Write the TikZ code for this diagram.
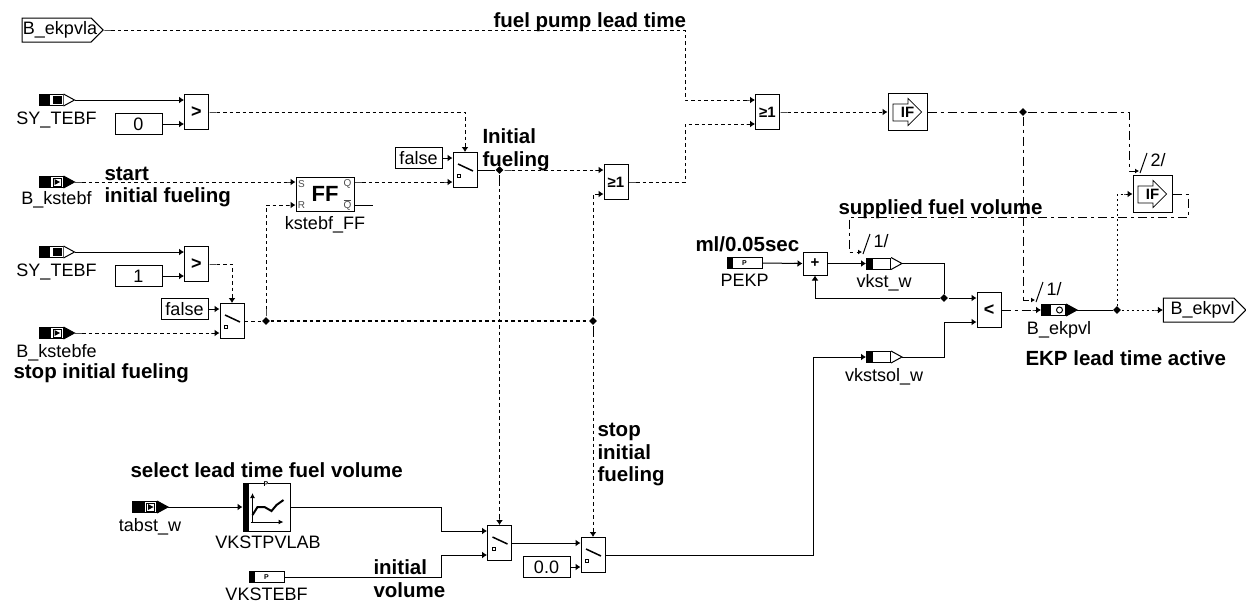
\documentclass[tikz,border=0pt]{standalone}
\usepackage{fontspec}
\setmainfont{Liberation Sans}
\usetikzlibrary{arrows.meta,shapes.geometric,shapes.symbols}

\tikzset{
    lbl/.style={inner sep=0pt, font=\fontsize{18}{20}\selectfont},
    headtxt/.style={inner sep=0pt, anchor=base west, font=\fontsize{20.5}{23}\bfseries\selectfont},
    % block shapes
    logicbox/.style={draw, inner sep=0pt, minimum width=24pt, minimum height=35pt, font=\bfseries\fontsize{18}{20}\selectfont},
    orbox/.style={logicbox, font=\bfseries\fontsize{15}{16}\selectfont},
    constbox/.style={draw, inner sep=0pt, minimum width=47pt, minimum height=21pt, text height=13pt, text depth=0pt, font=\fontsize{18}{20}\selectfont},
    ifbox/.style={logicbox, minimum width=39pt, minimum height=37pt, font=\bfseries\fontsize{15}{16}\selectfont},
    mapbox/.style={logicbox, minimum width=47pt, minimum height=48pt},
    % ports
    portbox/.style={draw, inner sep=0pt, minimum width=24pt, minimum height=11pt},
    parbox/.style={portbox, minimum width=35pt},
    tinytxt/.style={inner sep=0pt, font=\bfseries\fontsize{7}{7}\selectfont},
    pintxt/.style={inner sep=0pt, text=black!70, font=\fontsize{10}{10}\selectfont},
    outsig/.style={draw, signal, signal to=east, inner sep=0pt, minimum height=24pt},
    junc/.style={diamond, fill=black, inner sep=0pt, minimum size=8pt},
    % signal lines
    sig/.style={dash pattern=on 3.5pt off 3pt, {Rectangle[length=8pt,width=1pt]}->},
    sigfree/.style={dash pattern=on 3.5pt off 3pt},
    dots/.style={dash pattern=on 2pt off 3pt},
    dd/.style={dash pattern=on 9pt off 4pt on 3pt off 4pt},
    tip/.style={-{Latex[length=4pt,width=5pt]}},
}

% marks inside a port body, drawn around its centre
\newcommand{\marksq}{
    \fill (-12,-5.5) rectangle (-1,5.5);
    \fill (2,-4) rectangle (11,4);
}
\newcommand{\markarr}{
    \fill (-12,-5.5) rectangle (0,5.5);
    \draw[line width=0.7pt] (2,-4) rectangle (10,4);
    \fill (3.5,-3) -- (9,0) -- (3.5,3) -- cycle;
}
\newcommand{\markdot}{
    \fill (-12,-5.5) rectangle (-3,5.5);
    \draw (6,0) circle (3);
}
\newcommand{\markbar}{
    \fill (-12,-5.5) rectangle (-6,5.5);
}
% port with tip: [#1 label drop], #2 mark, #3 name, #4 centre, #5 tip colour, #6 label
\newcommand{\port}[6][24pt]{
    \node[portbox, xshift=-5.5pt] (#3) at (#4) {};
    \begin{scope}[shift={(#3.center)}] #2 \end{scope}
    \coordinate (#3-out) at ([xshift=11pt]#3.east);
    \filldraw[fill=#5] (#3.north east) -- (#3-out) -- (#3.south east);
    \node[lbl, anchor=base] (#3-l) at ([xshift=5.5pt, yshift=-#1]#3.center) {#6};
}
% parameter port: #1 name, #2 centre, #3 label
\newcommand{\parport}[3]{
    \node[parbox] (#1) at (#2) {};
    \fill ([xshift=-17.5pt, yshift=5.5pt]#1.center) rectangle ([xshift=-12pt, yshift=-5.5pt]#1.center);
    \node[tinytxt] (#1-p) at (#1.center) {P};
    \node[lbl, anchor=base] (#1-l) at ([yshift=-23.5pt]#1.center) {#3};
}
% named inputs of a two input block
\newcommand{\pins}[1]{
    \coordinate (#1-a) at ([yshift=12pt]#1.west);
    \coordinate (#1-b) at ([yshift=-12pt]#1.west);
}
% switch block: #1 name, #2 centre
\newcommand{\switchblk}[2]{
    \node[logicbox] (#1) at (#2) {};
    \pins{#1}
    \begin{scope}[shift={(#1.center)}]
        \draw[line width=1.5pt] (-7,-6) -- (8,1);
        \draw[line width=0.7pt] (-7.5,4.5) rectangle (-4.5,7.5);
    \end{scope}
}
% IF block: #1 name, #2 centre
\newcommand{\ifblk}[2]{
    \node[ifbox] (#1) at (#2) {IF};
    \begin{scope}[shift={(#1.center)}]
        \draw[line width=0.7pt] (-14.5,-8) -- (0.5,-8) -- (0.5,-13.5) -- (14,0) -- (0.5,13.5) -- (0.5,9) -- (-14.5,9) -- cycle;
    \end{scope}
}
% process marker: #1 name, #2 x, #3 y, #4 inset of the bend, #5 text
\newcommand{\procmark}[5]{
    \coordinate (#1) at (#2,#3);
    \coordinate (#1-in) at (#2-#4,#3);
    \draw (#2+1,#3+2) -- (#2+8,#3-18);
    \node[lbl, anchor=base west] (#1-t) at (#2+11,#3-5) {#5};
}

\begin{document}
\begin{tikzpicture}[x=1pt, y=-1pt, line width=1pt, >={Rectangle[length=4pt,width=1pt]Latex[length=5pt,width=7pt]}]
    \useasboundingbox (0,0) rectangle (1246,603);

    % 1. Input ports
    \node[outsig, minimum width=81pt] (ekpvla) at (56.6,30) {};
    \node[lbl] (ekpvla-t) at (60,30) {B\_ekpvla};
    \port{\marksq}{sytebfa}{56.5,100}{white}{SY\_TEBF}
    \port[22pt]{\markarr}{kstebf}{56.5,182}{black}{B\_kstebf}
    \port{\marksq}{sytebfb}{56.5,252}{white}{SY\_TEBF}
    \port{\markarr}{kstebfe}{56.5,333}{black}{B\_kstebfe}
    \port{\markarr}{tabst}{150,507}{black}{tabst\_w}
    \parport{vkstebf}{266.5,577}{VKSTEBF}
    \parport{pekp}{744.5,263}{PEKP}

    % 2. Constants
    \node[constbox] (zero) at (138.5,124) {0};
    \node[constbox] (one) at (138.5,276) {1};
    \node[constbox] (falsea) at (418.5,158) {false};
    \node[constbox] (falseb) at (184.5,309) {false};
    \node[constbox] (nil) at (546.5,567) {0.0};

    % 3. Blocks
    \node[logicbox] (gta) at (196.5,112) {>}; \pins{gta}
    \node[logicbox] (gtb) at (196.5,264) {>}; \pins{gtb}
    \node[logicbox, minimum width=58pt, minimum height=34pt, font=\bfseries\fontsize{22}{22}\selectfont] (ff) at (325,194) {FF};
    \coordinate (ff-s) at ([yshift=12pt]ff.west);
    \coordinate (ff-r) at ([yshift=-11pt]ff.west);
    \coordinate (ff-q) at ([yshift=12pt]ff.east);
    \coordinate (ff-qb) at ([yshift=-11pt]ff.east);
    \coordinate (ff-end) at ([xshift=18pt]ff-qb);
    \node[pintxt] (ff-ts) at ([xshift=6pt, yshift=-2pt]ff-s) {S};
    \node[pintxt] (ff-tr) at ([xshift=6pt]ff-r) {R};
    \node[pintxt] (ff-tq) at ([xshift=-7pt, yshift=-2pt]ff-q) {Q};
    \node[pintxt] (ff-tqb) at ([xshift=-7pt]ff-qb) {$\overline{\mbox{Q}}$};
    \node[lbl, anchor=base] (ff-l) at (325,229) {kstebf\_FF};
    \switchblk{swa}{465,170}
    \switchblk{swb}{232,321}
    \switchblk{swc}{499.5,543}
    \switchblk{swd}{593,555}
    \node[orbox] (ora) at (767.5,112) {≥1}; \pins{ora}
    \node[orbox] (orb) at (616,182) {≥1}; \pins{orb}
    \ifblk{ifa}{907.5,112}
    \ifblk{ifb}{1152.5,194}
    \node[mapbox] (map) at (266.5,507) {};
    \begin{scope}[shift={(map.center)}]
        \fill (-23.5,-24) rectangle (-18,24);
        \draw[-{Latex[length=5pt,width=5pt]}] (-14,15) -- (-14,-14);
        \draw[-{Latex[length=5pt,width=5pt]}] (-16,15) -- (17,15);
        \draw[line width=2pt] (-14,8) -- (-9,0) -- (-2,0) -- (5,4) -- (10,-2) -- (17,-7);
    \end{scope}
    \node[tinytxt, fill=white] (map-p) at (266,484) {P};
    \node[lbl, anchor=base] (map-l) at (268,548) {VKSTPVLAB};
    \node[logicbox, minimum height=23pt, font=\bfseries\fontsize{15}{16}\selectfont] (plus) at (815,263.5) {+};
    \node[logicbox] (lt) at (989,310) {<}; \pins{lt}

    % 4. Inner ports and output
    \port{\markbar}{vkst}{884,263.5}{white}{vkst\_w}
    \port{\markbar}{vkstsol}{884,357}{white}{vkstsol\_w}
    \port{\markdot}{ekpvlp}{1059,310}{black}{B\_ekpvl}
    \node[outsig, minimum width=82.5pt] (ekpvl) at (1198.6,310) {};
    \node[lbl, anchor=west] (ekpvl-t) at (1170,310) {B\_ekpvl};

    % 5. Junctions
    \node[junc] (juna) at (266,321) {};
    \node[junc] (junb) at (593,321) {};
    \node[junc] (junc) at (499.5,170) {};
    \node[junc] (jund) at (1023,112) {};
    \node[junc] (june) at (1117,310) {};
    \node[junc] (junf) at (944,298) {};

    % 6. Signal lines
    \draw[sig] (ekpvla.east) -| ([xshift=-70pt]ora-a) -- (ora-a);
    \draw[->] (sytebfa-out) -- (gta-a);
    \draw[->] (zero) -- (gta-b);
    \draw[sig] (gta.east) -| (swa.north);
    \draw[sig] (kstebf-out) -- (ff-s);
    \draw[->] (sytebfb-out) -- (gtb-a);
    \draw[->] (one) -- (gtb-b);
    \draw[sig] (gtb.east) -| (swb.north);
    \draw[->] (falseb) -- (swb-a);
    \draw[sig] (kstebfe-out) -- (swb-b);
    \draw[sigfree] (swb.east) -- (juna);
    \draw[sig] (juna) |- (ff-r);
    \draw[sigfree, line width=1.6pt] (juna) -- (junb);
    \draw[sig] (junb) |- (orb-b);
    \draw[sig] (junb) -- (swd.north);
    \draw[sig] (ff-q) -- (swa-b);
    \draw (ff-qb) -- (ff-end);
    \draw[->] (falsea) -- (swa-a);
    \draw (swa.east) -- (junc);
    \draw[sig] (junc) -- (orb-a);
    \draw[sig] (junc) -- (swc.north);
    \draw[sig] (orb.east) -| ([xshift=-70pt]ora-b) -- (ora-b);
    \draw[sig] (ora.east) -- (ifa.west);
    \draw[->] (tabst-out) -- (map.west);
    \draw[->] (map.east) -| ([xshift=-46pt]swc-a) -- (swc-a);
    \draw[->] (vkstebf.east) -| ([xshift=-46pt]swc-b) -- (swc-b);
    \draw[->] (swc.east) -- (swd-a);
    \draw[->] (nil) -- (swd-b);
    \draw[->] (swd.east) -| ([xshift=-53pt]vkstsol.west) -- (vkstsol.west);
    \draw[->] (vkstsol-out) -| ([xshift=-32pt]lt-b) -- (lt-b);
    \draw[->] (pekp.east) -- (plus.west);
    \draw[->] (plus.east) -- (vkst.west);
    \draw (vkst-out) -| (junf);
    \draw[->] (junf) -- (lt-a);
    \draw[->] (junf) -| (plus.south);
    \draw[dd, ->] (lt.east) -- (ekpvlp.west);
    \draw (ekpvlp-out) -- (june);
    \draw[dots, ->] (june) -- (ekpvl.west);
    \draw[dots, ->] (june) |- (ifb.west);

    % 7. Process markers
    \procmark{mrka}{1035}{300}{12}{1/}
    \procmark{mrkb}{1139}{171}{10}{2/}
    \procmark{mrkc}{862}{252}{13}{1/}
    \coordinate (fbk) at (1188,217);
    \draw[dd] (ifa.east) -- (jund);
    \draw[dd, tip] (jund) |- (mrka);
    \draw[dd, tip] (jund) -| (mrkb-in) -- (mrkb);
    \draw[dd, tip] (ifb.east) -| (fbk) -| (mrkc-in) -- (mrkc);

    % 8. Comments in the picture
    \node[headtxt] (c1) at (493,27) {fuel pump lead time};
    \node[headtxt] (c2) at (104,180) {start};
    \node[headtxt] (c3) at (104,202) {initial fueling};
    \node[headtxt] (c4) at (13,378) {stop initial fueling};
    \node[headtxt] (c5) at (482,143) {Initial};
    \node[headtxt] (c6) at (482,166) {fueling};
    \node[headtxt] (c7) at (838,214) {supplied fuel volume};
    \node[headtxt] (c8) at (695,251) {ml/0.05sec};
    \node[headtxt] (c9) at (1025,365) {EKP lead time active};
    \node[headtxt] (c10) at (597,436) {stop};
    \node[headtxt] (c11) at (597,459) {initial};
    \node[headtxt] (c12) at (597,481) {fueling};
    \node[headtxt] (c13) at (130,477) {select lead time fuel volume};
    \node[headtxt] (c14) at (373,574) {initial};
    \node[headtxt] (c15) at (373,597) {volume};
\end{tikzpicture}
\end{document}
